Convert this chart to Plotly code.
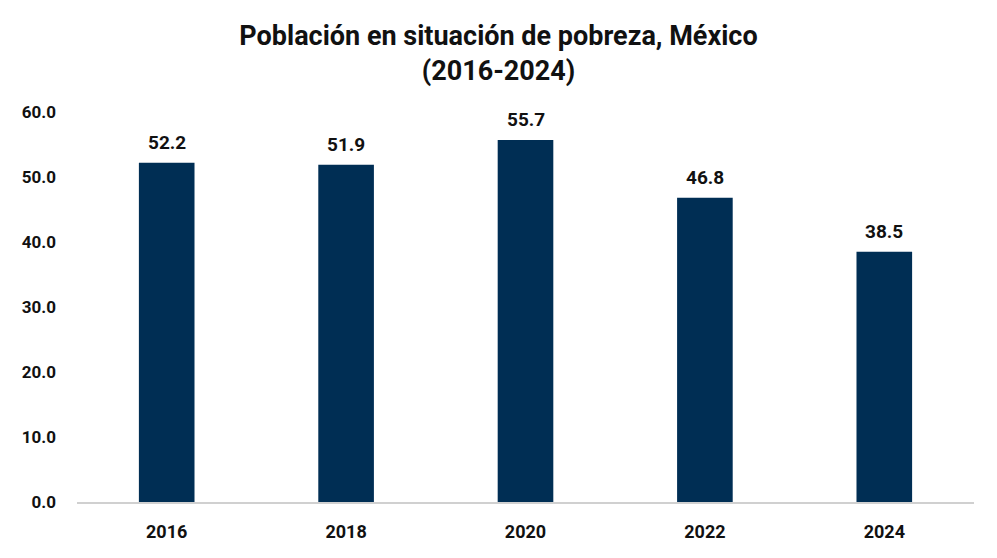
import plotly.graph_objects as go

years = ["2016", "2018", "2020", "2022", "2024"]
values = [52.2, 51.9, 55.7, 46.8, 38.5]
tick_vals = [0, 10, 20, 30, 40, 50, 60]
tick_text = ["0.0", "10.0", "20.0", "30.0", "40.0", "50.0", "60.0"]

FONT = "Roboto"
BAR = "#002E54"

fig = go.Figure()
fig.add_trace(go.Bar(x=years, y=values, marker_color=BAR, marker_line_width=0,
                     hoverinfo="skip"))
for i, v in enumerate(values):
    fig.add_annotation(x=i, y=v, text=f"{v:.1f}", showarrow=False,
                       yanchor="bottom", yshift=7,
                       font=dict(family=FONT, size=19, color="#111111", weight="bold"))

fig.update_layout(
    width=997, height=558,
    margin=dict(l=77, r=23, t=112, b=56),
    paper_bgcolor="white", plot_bgcolor="white",
    bargap=0.69,
    showlegend=False,
    title=dict(text="Población en situación de pobreza, México<br>(2016-2024)",
               x=0.5, xanchor="center", yref="container", y=0.92, yanchor="middle",
               font=dict(family=FONT, size=27, color="#111111", weight="bold")),
)
fig.update_xaxes(type="category", categoryorder="array", categoryarray=years,
                 range=[-0.5, len(years) - 0.5],
                 showline=True, linecolor="#D0D0D0", linewidth=1.5,
                 showgrid=False, ticks="", ticklabelstandoff=13,
                 tickfont=dict(family=FONT, size=18, color="#111111", weight="bold"))
fig.update_yaxes(range=[0, 60], tickvals=tick_vals, ticktext=tick_text,
                 showgrid=False, zeroline=False, showline=False,
                 ticks="", ticklabelstandoff=20,
                 tickfont=dict(family=FONT, size=17, color="#111111", weight="bold"))

fig.write_html("out.html")
